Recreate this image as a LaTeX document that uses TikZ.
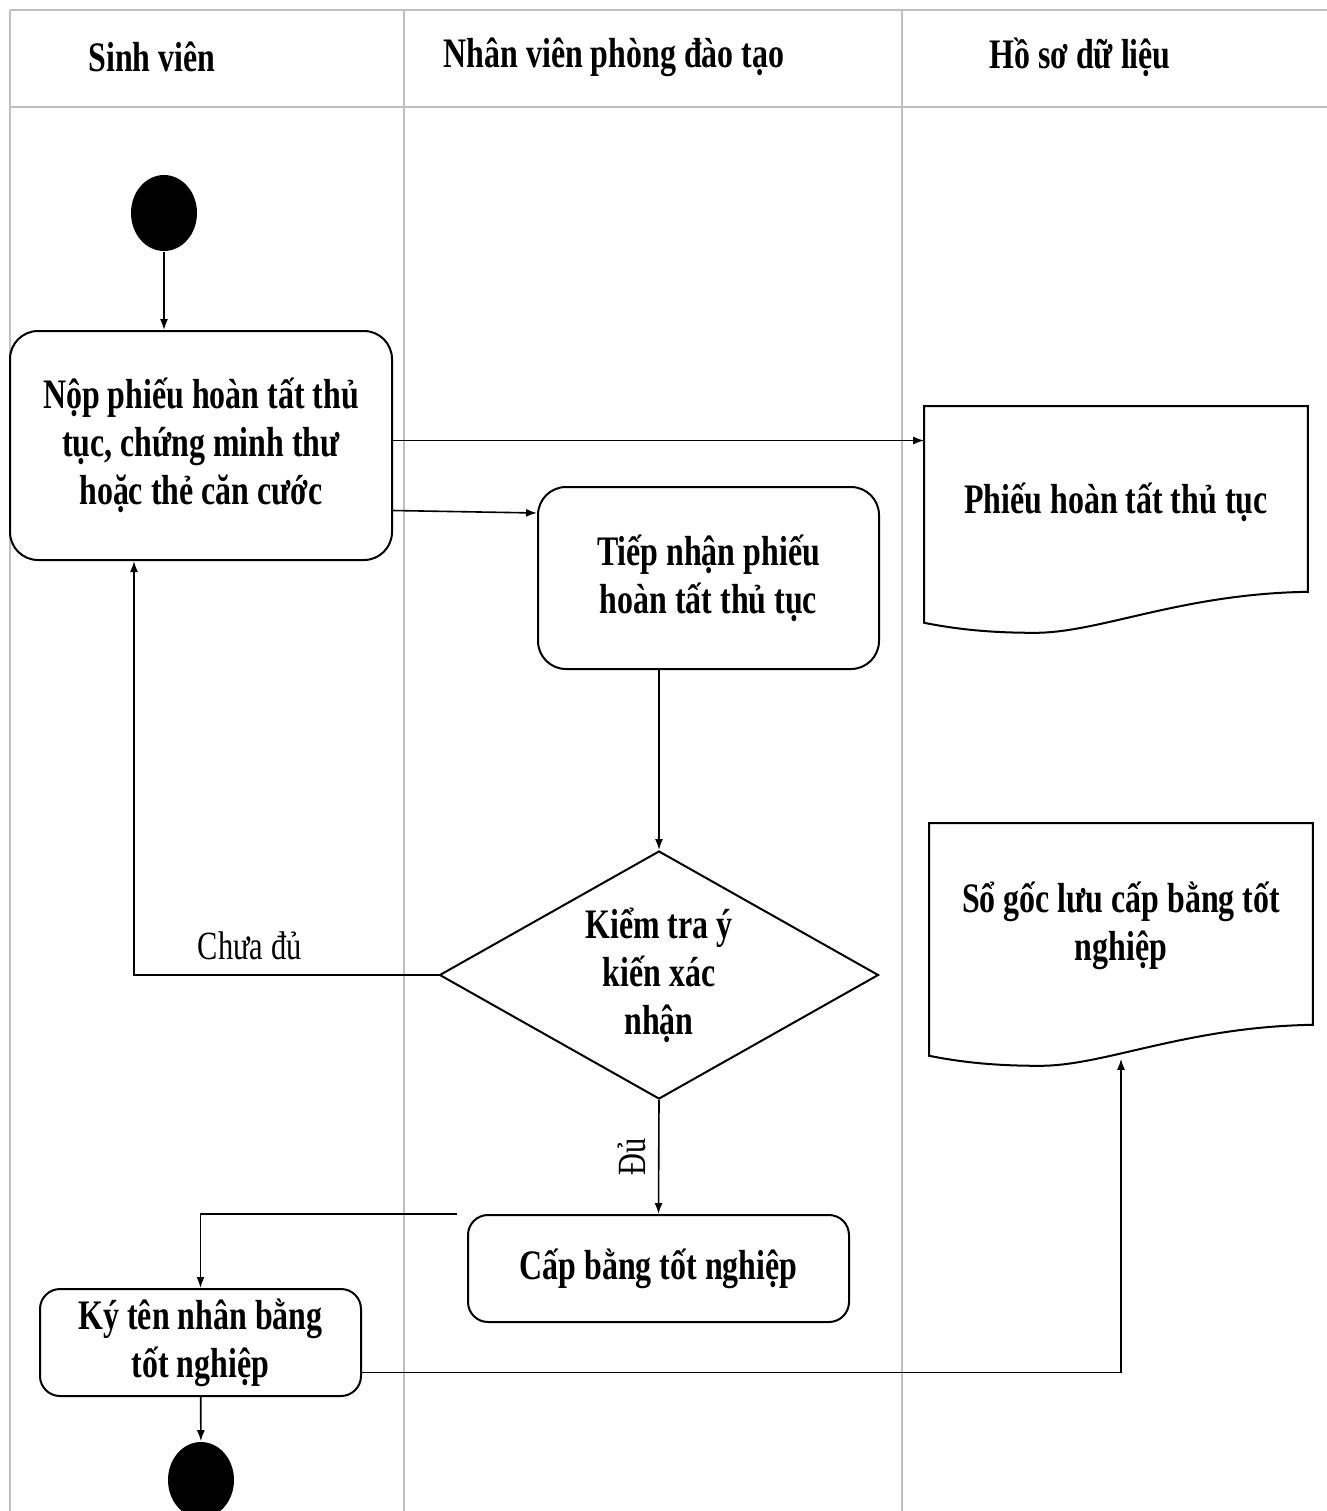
\documentclass[tikz,border=0pt]{standalone}
\usepackage{fontspec}
\setmainfont{Liberation Serif}[FakeStretch=0.76]
\usepackage{tikz}
\usetikzlibrary{arrows.meta}
\usetikzlibrary{shapes.geometric}

\tikzset{
  lane/.style={draw=black!25, line width=1pt},
  head/.style={font=\fontsize{21}{24}\selectfont\bfseries},
  act/.style={draw, line width=1pt, rounded corners=14pt, inner sep=0pt, align=center,
    font=\fontsize{21}{24}\selectfont\bfseries},
  dot/.style={shape=ellipse, fill=black, minimum width=33pt, minimum height=38pt, inner sep=0pt},
  choice/.style={shape=diamond, draw, line width=1pt, aspect=1.77, inner sep=0pt, align=center,
    minimum width=219.5pt, minimum height=124pt, font=\fontsize{21}{24}\selectfont\bfseries},
  docbox/.style={inner sep=0pt, minimum width=191pt},
  doclbl/.style={align=center, font=\fontsize{21}{24}\selectfont\bfseries},
  lbl/.style={font=\fontsize{20}{24}\selectfont}
}

% outline of a document symbol round a node
\newcommand{\docpath}[1]{%
  \draw[line width=1pt] (#1.north west) -- (#1.north east) -- ([yshift=15.5pt]#1.south east)
    .. controls ([shift={(-127,-29)}]#1.south east) and ([shift={(-16,10)}]#1.south) .. ([shift={(-81,10)}]#1.south)
    .. controls ([shift={(-116,10)}]#1.south) and ([shift={(40,8)}]#1.south west) .. (#1.south west) -- cycle;}

\begin{document}
\begin{tikzpicture}[x=0.5pt, y=-0.5pt, line width=0.8pt, >={Latex[length=5.5pt,width=4pt]}]
\useasboundingbox (0,0) rectangle (1327,1511);
% swimlanes
\draw[lane] (10,10) -- (1327,10);
\draw[lane] (10,107) -- (1327,107);
\draw[lane] (10,10) -- (10,1511);
\draw[lane] (404,10) -- (404,1511);
\draw[lane] (902,10) -- (902,1511);
\node[head] (H1) at (152,57) {Sinh viên};
\node[head] (H2) at (614,57) {Nhân viên phòng đào tạo};
\node[head] (H3) at (1080,57) {Hồ sơ dữ liệu};

\node[dot] (S) at (164,213) {};
\node[act, minimum width=191pt, minimum height=114.5pt] (A) at (201,445.5) {Nộp phiếu hoàn tất thủ\\tục, chứng minh thư\\hoặc thẻ căn cước};
\node[act, minimum width=170.5pt, minimum height=91pt] (B) at (708.5,578) {Tiếp nhận phiếu\\hoàn tất thủ tục};
\node[choice] (C) at (659,975) {Kiểm tra ý\\kiến xác\\nhận};
\node[act, rounded corners=10pt, minimum width=190.5pt, minimum height=53.5pt] (D) at (658.5,1268.5) {Cấp bằng tốt nghiệp};
\node[act, rounded corners=10pt, minimum width=160.5pt, minimum height=53.5pt] (E) at (200.5,1342.5) {Ký tên nhân bằng\\tốt nghiệp};
\node[dot] (F) at (201,1480) {};

\node[docbox, minimum height=107.5pt, label={[doclbl, yshift=6pt]center:Phiếu hoàn tất thủ tục}] (P) at (1116,514.5) {};
\docpath{P}
\node[docbox, minimum height=115.5pt, label={[doclbl, yshift=6.75pt]center:Sổ gốc lưu cấp bằng tốt\\nghiệp}] (Q) at (1121,939.5) {};
\docpath{Q}

\draw [->] (S) -- (S |- A.north);
\draw [->] ([yshift=2.5pt]A.east) -- ([yshift=2.5pt]A.east -| P.west);
\draw [->] ([yshift=-32.5pt]A.east) -- ([yshift=32.5pt]B.west);
\draw [->] (B.south -| C.north) -- (C.north);
\draw [->] (C.west) -| ([xshift=-33.5pt]A.south) node[lbl, pos=0.31, above=4pt] {Chưa đủ};
\draw [->] (C.south) -- (D.north) node[lbl, midway, rotate=90, anchor=south, inner sep=6pt] {Đủ};
\draw [->] ([xshift=-5pt]D.north west) -| (E.north);
\draw [->] (E) -- (F);
\draw [->] ([yshift=-15pt]E.east) -| ([yshift=-1.5pt]Q.south);
\end{tikzpicture}
\end{document}
